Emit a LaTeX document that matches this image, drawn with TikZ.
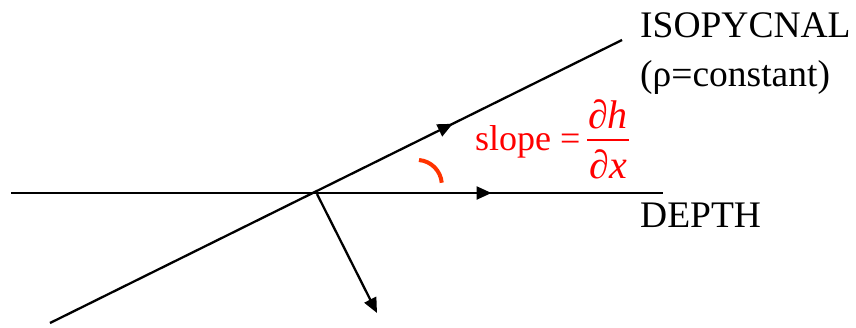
\documentclass[tikz,border=0pt]{standalone}
\usepackage{fontspec}
\setmainfont{Liberation Serif}
\usetikzlibrary{arrows.meta,decorations.markings}
\definecolor{slopered}{RGB}{255,0,0}
\definecolor{arcred}{RGB}{255,51,0}
\tikzset{
  ln/.style={line width=2.3pt, black},
  midarrow/.style={postaction={decorate},decoration={markings,
      mark=at position #1 with {\arrow{Triangle[length=15pt,width=13pt]}}}},
  lbl/.style={font=\fontsize{37.5}{45}\selectfont, inner sep=0pt, anchor=base west},
  rlbl/.style={font=\fontsize{40}{48}\selectfont, inner sep=0pt, anchor=base, text=slopered},
}
\begin{document}
\begin{tikzpicture}[x=1pt,y=-1pt]
\useasboundingbox (0,0) rectangle (856,327);
\coordinate (dL) at (11,193);
\coordinate (dR) at (663,193);
\coordinate (iL) at (50,323);
\coordinate (iR) at (622,40);
\coordinate (O) at (317,194);
\coordinate (nT) at (377,313);
\draw[ln, midarrow=0.737] (dL) -- (dR);
\draw[ln, midarrow=0.704] (iL) -- (iR);
\draw[ln, -{Triangle[length=15pt,width=13pt]}] (O) -- (nT);
\draw[line width=4pt, arcred] (419,160) arc[start angle=-85, end angle=-5, radius=25];
\node[lbl] (iso) at (640,37) {ISOPYCNAL};
\node[lbl] (rho) at (640,86) {(ρ=constant)};
\node[lbl] (depth) at (640,227) {DEPTH};
\node[lbl, font=\fontsize{36}{43}\selectfont, text=slopered] (slope) at (475,150) {slope =};
\node[rlbl] (num) at (608,128) {∂\textit{h}};
\node[rlbl] (den) at (608,178) {∂\textit{x}};
\coordinate (bL) at (587,140);
\coordinate (bR) at (629,140);
\draw[line width=2pt, slopered] (bL) -- (bR);
\end{tikzpicture}
\end{document}
